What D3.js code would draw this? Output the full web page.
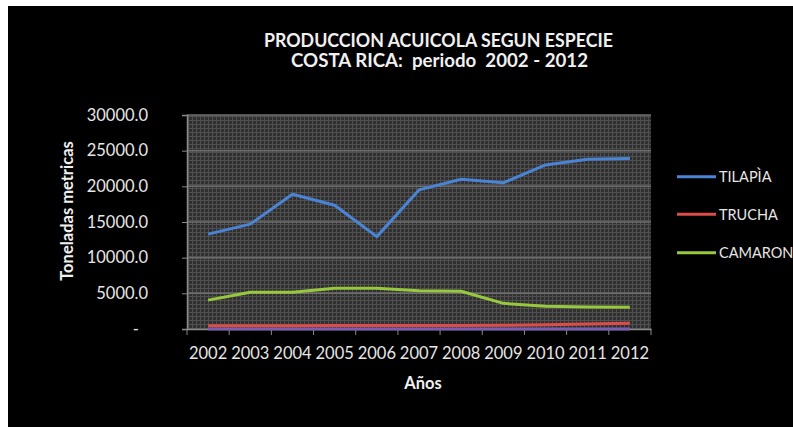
<!DOCTYPE html>
<html><head><meta charset="utf-8">
<script src="https://cdn.jsdelivr.net/npm/d3@7"></script>
<style>html,body{margin:0;padding:0;background:#fff;}svg{display:block;}</style>
</head><body>
<script>
const years = ["2002","2003","2004","2005","2006","2007","2008","2009","2010","2011","2012"];
const tilapia = [13300,14700,18900,17350,12950,19500,21000,20500,23000,23800,23900];
const trucha  = [450,450,470,480,480,500,500,520,600,700,800];
const camaron = [4050,5150,5150,5700,5700,5350,5300,3600,3200,3080,3050];
const otros   = [0,0,0,0,0,0,0,0,0,0,0];
const seriesNames = ["TILAPÌA","TRUCHA","CAMARON"];
const yTicks = [0,5000,10000,15000,20000,25000,30000];
const titleLines = ["PRODUCCION ACUICOLA SEGUN ESPECIE","COSTA RICA:  periodo  2002 - 2012"];

const W = 793, H = 427;
const svg = d3.select("body").append("svg").attr("width",W).attr("height",H);
const font = "Lato, 'Open Sans', sans-serif";

svg.append("rect").attr("x",8).attr("y",6).attr("width",W-8).attr("height",H-6).attr("fill","#000");

// pattern for plot area
const defs = svg.append("defs");
const pat = defs.append("pattern").attr("id","dots").attr("width",4).attr("height",4).attr("patternUnits","userSpaceOnUse");
pat.append("rect").attr("width",4).attr("height",4).attr("fill","#303030");
pat.append("rect").attr("width",4).attr("height",1).attr("fill","#505050");
pat.append("rect").attr("width",1).attr("height",4).attr("fill","#505050");

const L = 187, R = 651, T = 115, B = 329;
const x = d3.scaleBand().domain(years).range([L,R]).padding(0);
const y = d3.scaleLinear().domain([0,30000]).range([B,T]);

svg.append("rect").attr("x",L).attr("y",T).attr("width",R-L).attr("height",B-T).attr("fill","url(#dots)");

// gridlines
svg.append("g").selectAll("line").data(yTicks.filter(d=>d>0)).join("line")
  .attr("x1",L).attr("x2",R).attr("y1",d=>y(d)).attr("y2",d=>y(d))
  .attr("stroke","#6e6e6e").attr("stroke-width",1.5);

// y axis
const yAxis = svg.append("g").attr("transform",`translate(${L},0)`)
  .call(d3.axisLeft(y).tickValues(yTicks).tickSize(5).tickPadding(34)
    .tickFormat(d => d===0 ? "-" : d3.format(".1f")(d)));
yAxis.select(".domain").attr("stroke","#8a8a8a").attr("stroke-width",1.5);
yAxis.selectAll(".tick line").attr("stroke","#8a8a8a");
yAxis.selectAll("text").attr("fill","#e6e6e6").style("font-family",font).style("font-size","16.5px");
yAxis.selectAll(".tick").filter(d=>d===0).select("text").attr("dx",-9);

// x axis
const xAxis = svg.append("g").attr("transform",`translate(0,${B})`)
  .call(d3.axisBottom(x).tickSize(0).tickPadding(18));
xAxis.select(".domain").attr("stroke","#8a8a8a").attr("stroke-width",1.5);
xAxis.selectAll("text").attr("fill","#e6e6e6").style("font-family",font).style("font-size","16.5px");
// boundary tick marks
xAxis.append("g").selectAll("line").data(d3.range(years.length+1)).join("line")
  .attr("x1",i=>L+i*x.bandwidth()).attr("x2",i=>L+i*x.bandwidth())
  .attr("y1",0).attr("y2",6).attr("stroke","#8a8a8a");

// lines
const line = d3.line().x((d,i)=>x(years[i])+x.bandwidth()/2).y(d=>y(d));
const series = [
  {name:seriesNames[0], values:tilapia, color:"#4a84d6", legend:true},
  {name:seriesNames[1], values:trucha, color:"#dc4c48", legend:true},
  {name:seriesNames[2], values:camaron, color:"#98c83c", legend:true},
  {name:"", values:otros, color:"#7a5cb0", legend:false}
];
svg.append("g").selectAll("path").data(series.slice().reverse()).join("path")
  .attr("d",d=>line(d.values)).attr("fill","none").attr("stroke",d=>d.color)
  .attr("stroke-width",3).attr("stroke-linejoin","round");

// legend
const lg = svg.append("g");
const legY = [176.7,214.3,252.7];
series.filter(s=>s.legend).forEach((s,i)=>{
  lg.append("line").attr("x1",677).attr("x2",716).attr("y1",legY[i]).attr("y2",legY[i])
    .attr("stroke",s.color).attr("stroke-width",3);
  lg.append("text").attr("x",719).attr("y",legY[i]).attr("dy","0.36em").text(s.name)
    .attr("fill","#e6e6e6").style("font-family",font).style("font-size","14.5px");
});

// titles
const tl = [[438.5,47,349],[439.5,67,297]];
titleLines.forEach((t,i)=>{
  svg.append("text").attr("x",tl[i][0]).attr("y",tl[i][1]).attr("text-anchor","middle")
    .attr("textLength",tl[i][2]).attr("lengthAdjust","spacingAndGlyphs")
    .style("white-space","pre")
    .attr("fill","#f0f0f0").style("font-family",font).style("font-weight","bold").style("font-size","18.5px").text(t);
});

svg.append("text").attr("x",423).attr("y",389).attr("text-anchor","middle")
  .attr("fill","#f0f0f0").style("font-family",font).style("font-weight","bold").style("font-size","16.5px").text("Años");
svg.append("text").attr("transform","translate(73,211) rotate(-90)").attr("text-anchor","middle")
  .attr("fill","#f0f0f0").style("font-family",font).style("font-weight","bold").style("font-size","16.5px").text("Toneladas metricas");
</script>
</body></html>
